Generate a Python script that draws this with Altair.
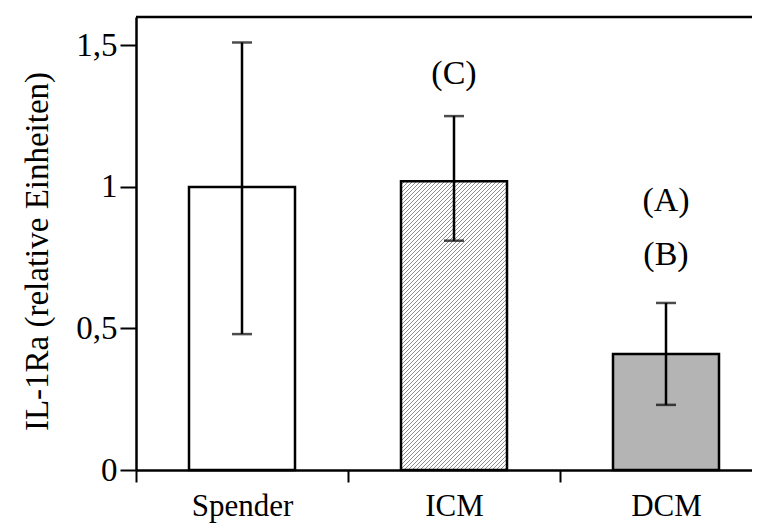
import altair as alt
import pandas as pd

# ---- data ----
categories = ["Spender", "ICM", "DCM"]
means = [1.00, 1.02, 0.41]
err_lo = [0.48, 0.81, 0.23]
err_hi = [1.51, 1.25, 0.59]

note_text = ["(C)", "(A)", "(B)"]
note_cat = ["ICM", "DCM", "DCM"]
note_y = [1.40, 0.95, 0.76]

y_ticks = [0, 0.5, 1, 1.5]

df = pd.DataFrame({"cat": categories, "value": means, "lo": err_lo, "hi": err_hi})
notes = pd.DataFrame({"cat": note_cat, "y": note_y, "label": note_text})

FONT = "Liberation Serif"
W, H = 616, 453
RANGE_W = 636
Y_MAX = 1.6

xscale = alt.Scale(domain=categories, range=[0, RANGE_W], paddingInner=0.5, paddingOuter=0.25)
yscale = alt.Scale(domain=[0, Y_MAX], nice=False, zero=True)

xaxis = alt.Axis(
    title=None, labelAngle=0, labelFontSize=31, labelFont=FONT, tickSize=12, tickWidth=2,
    domainWidth=2.5, labelPadding=9, tickOffset=-106, labelOffset=106,
)
yaxis = alt.Axis(
    title="IL-1Ra (relative Einheiten)", values=y_ticks,
    labelExpr="replace(format(datum.value, '~g'), '.', ',')",
    labelFontSize=33, labelFont=FONT, tickSize=16, tickWidth=2, domainWidth=2.5,
    labelPadding=3, titleFontSize=33, titleFont=FONT, titleFontWeight="normal",
    titleX=-99, titleY=234, titleAlign="center", titleBaseline="middle", titleAngle=-90,
)

X = alt.X("cat:N", scale=xscale, axis=xaxis, sort=categories)

def Y(field):
    return alt.Y(field, type="quantitative", scale=yscale, axis=yaxis)

base = alt.Chart(df)

# hatch for ICM bar as a striped linear gradient (style only)
bw = RANGE_W / 3 * 0.5
bh = means[1] / Y_MAX * H
k = (bw + bh) / (bw * bw + bh * bh)
period = 4.0 / (bw + bh)
stops = []
i = 0
while i * period < 1:
    a = round(i * period, 6)
    b = round(min((i + 0.7) * period, 1), 6)
    c = round(min((i + 1) * period, 1), 6)
    stops += [
        {"offset": a, "color": "#ffffff"},
        {"offset": b, "color": "#ffffff"},
        {"offset": b, "color": "#8c8c8c"},
        {"offset": c, "color": "#8c8c8c"},
    ]
    i += 1
hatch = {"gradient": "linear", "x1": 0, "y1": 0, "x2": round(k * bw, 5), "y2": round(k * bh, 5), "stops": stops}

bar_spender = base.transform_filter(alt.datum.cat == "Spender").mark_bar(
    fill="white", stroke="black", strokeWidth=2.5
).encode(x=X, y=Y("value"))
bar_icm = base.transform_filter(alt.datum.cat == "ICM").mark_bar(
    fill=hatch, stroke="black", strokeWidth=2.5
).encode(x=X, y=Y("value"))
bar_dcm = base.transform_filter(alt.datum.cat == "DCM").mark_bar(
    fill="#b4b4b4", stroke="black", strokeWidth=2.5
).encode(x=X, y=Y("value"))

err_line = base.mark_rule(color="black", strokeWidth=2.5).encode(x=X, y=Y("lo"), y2="hi:Q")
cap_lo = base.mark_tick(color="black", size=20, thickness=2.5).encode(x=X, y=Y("lo"))
cap_hi = base.mark_tick(color="black", size=20, thickness=2.5).encode(x=X, y=Y("hi"))

text = alt.Chart(notes).mark_text(
    font=FONT, fontSize=34, align="center", baseline="middle", color="black"
).encode(x=X, y=Y("y"), text="label:N")

top_line = alt.Chart(pd.DataFrame({"z": [0]})).mark_rule(color="black", strokeWidth=2.5).encode(
    y=alt.value(0), x=alt.value(0), x2=alt.value(RANGE_W + 10)
)

chart = alt.layer(
    bar_spender, bar_icm, bar_dcm, err_line, cap_lo, cap_hi, text, top_line
).properties(
    width=W, height=H,
    autosize=alt.AutoSizeParams(type="none"),
    padding={"left": 128, "top": 9, "right": 0, "bottom": 56},
).configure_view(strokeWidth=0).configure_axis(
    domainColor="black", tickColor="black", labelColor="black", titleColor="black", grid=False,
    labelFont=FONT, titleFont=FONT, titleFontWeight="normal"
)

chart.save("out.html", embed_options={"renderer": "svg", "actions": False})
